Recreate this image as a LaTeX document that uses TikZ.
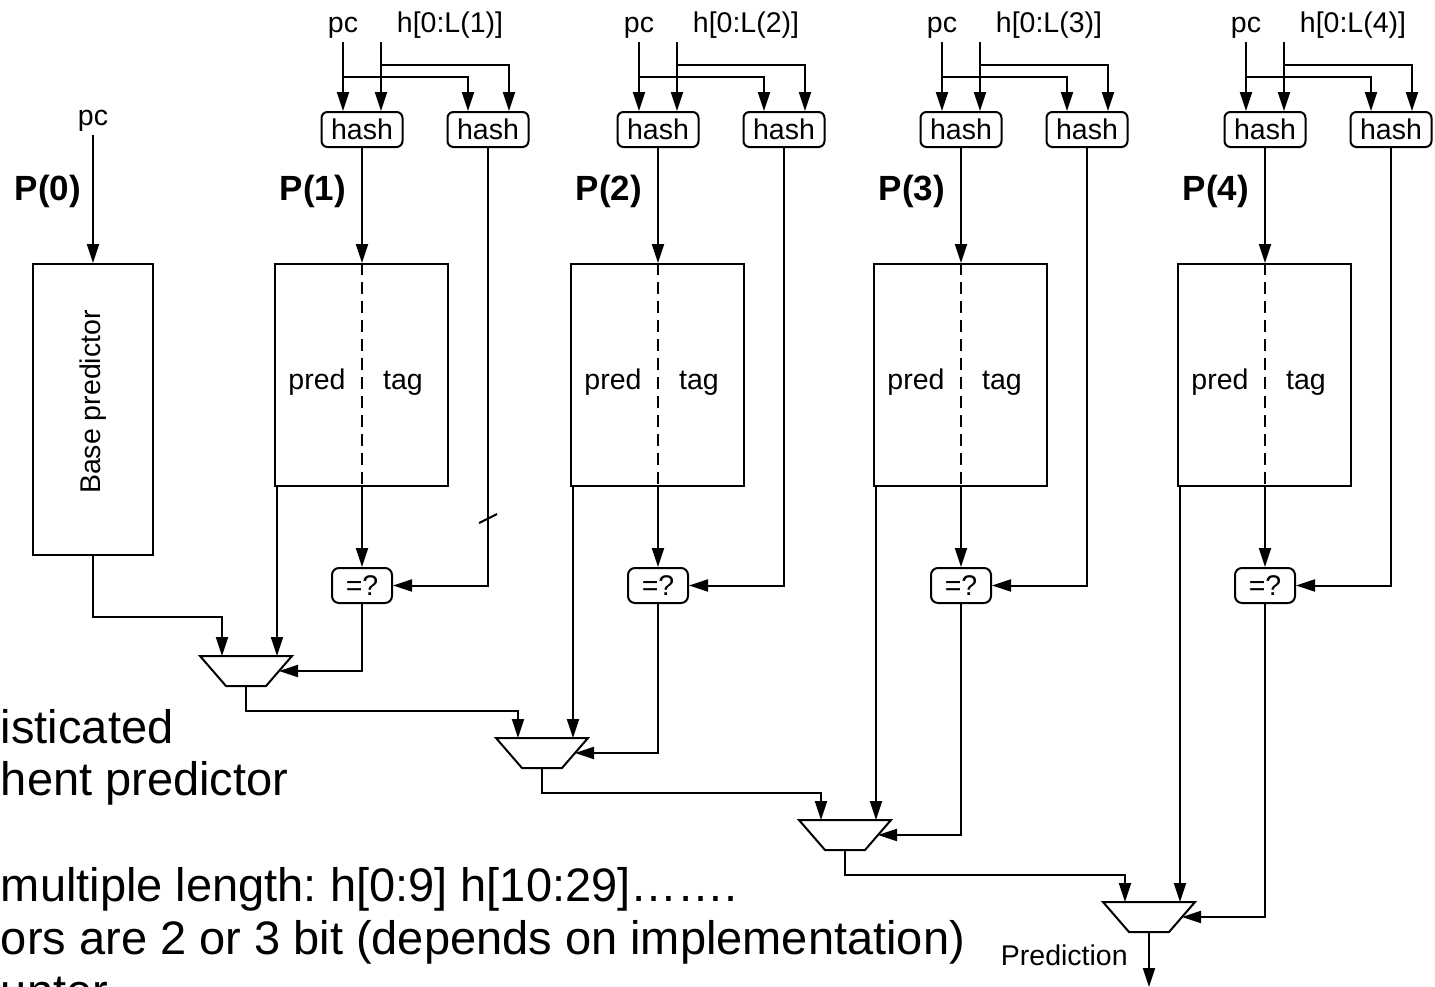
\documentclass[tikz,border=0pt]{standalone}
\usepackage{fontspec}
\setmainfont{Liberation Sans}
\frenchspacing
\usetikzlibrary{arrows.meta,calc}

\tikzset{
  arr/.style={-{Triangle[length=19pt,width=12pt]}},
  hashbox/.style={draw,rounded corners=6pt,minimum width=81pt,minimum height=35pt,inner sep=0pt},
  cmpbox/.style={draw,rounded corners=7pt,minimum width=60pt,minimum height=35pt,inner sep=0pt},
  tblbox/.style={draw,minimum width=173pt,minimum height=222pt,inner sep=0pt},
  lbl/.style={font=\fontsize{28.5}{34}\selectfont},
  biglbl/.style={font=\fontsize{35}{42}\selectfont\bfseries},
  slide/.style={font=\fontsize{47}{54}\selectfont,anchor=base west,inner sep=0pt},
}

\begin{document}
\begin{tikzpicture}[x=1pt,y=-1pt,line width=2pt]
\useasboundingbox (0,0) rectangle (1435,986);
% 背景文字
\node[slide] (t1) at (0,743) {isticated};
\node[slide] (t2) at (0,795) {hent predictor};
\node[slide] (t3) at (0,901) {multiple length: h[0:9] h[10:29]…….};
\node[slide] (t4) at (0,954) {ors are 2 or 3 bit (depends on implementation)};
\node[slide] (t5) at (0,1007) {unter};
% 基础预测器 P(0)
\node[lbl,anchor=base] (pc0) at (93,125) {pc};
\node[biglbl,anchor=base] (P0) at (48,200) {P(0)};
\node[draw,minimum width=120pt,minimum height=291pt,inner sep=0pt] (base) at (93,409.5) {};
\node[lbl,rotate=90,anchor=base] (basetxt) at (100,402) {Base predictor};
\draw[arr] (pc0.south) -- (base.north);
% 四个带标签的表
\foreach \cx/\my/\n in {362/656/1, 658/738/2, 961/820/3, 1265/902/4} {
  \node[lbl,anchor=base] (pc\n) at (\cx-19,32) {pc};
  \node[lbl,anchor=base] (hl\n) at (\cx+88,32) {h[0:L(\n)]};
  \node[biglbl,anchor=base] (P\n) at (\cx-49,200) {P(\n)};
  \node[hashbox,lbl] (ha\n) at (\cx,129.5) {hash};
  \node[hashbox,lbl] (hb\n) at (\cx+126,129.5) {hash};
  \node[tblbox] (tb\n) at (\cx-0.5,375) {};
  \node[lbl,anchor=base] (pr\n) at (\cx-45,389) {pred};
  \node[lbl,anchor=base] (tg\n) at (\cx+41,389) {tag};
  \node[cmpbox,lbl] (eq\n) at (\cx,585.5) {=?};
  \coordinate (hin\n) at (\cx+19,42);
  % 多路选择器
  \coordinate (m\n) at (\cx-116,\my);
  \coordinate (ml\n) at ($(m\n)+(-24,0)$);
  \coordinate (mc\n) at ($(m\n)+(31,0)$);
  \coordinate (mr\n) at ($(m\n)+(33,15)$);
  \coordinate (mo\n) at ($(m\n)+(0,30)$);
  \draw (m\n) ++(-46,0) -- ++(92,0) -- ++(-26,30) -- ++(-40,0) -- cycle;
  % 连线
  \draw[arr] (pc\n.south) -- (pc\n.south |- ha\n.north);
  \draw[arr] (hin\n) -- (hin\n |- ha\n.north);
  \draw[arr] ($(hin\n)+(0,23)$) -| ($(hb\n.north)+(21,0)$);
  \draw[arr] ($(pc\n.south)+(0,35)$) -| ($(hb\n.north)+(-20,0)$);
  \draw[arr] (ha\n.south) -- (ha\n.south |- tb\n.north);
  \draw[dash pattern=on 12pt off 7pt] (ha\n.south |- tb\n.north) -- (ha\n.south |- tb\n.south);
  \draw[arr] (ha\n.south |- tb\n.south) -- (eq\n.north);
  \draw[arr] (hb\n.south) |- (eq\n.east);
  \draw[arr] (mc\n |- tb\n.south) -- (mc\n);
  \draw[arr] (eq\n.south) |- (mr\n);
}
\draw ($(hb1.south)+(-9,375)$) -- ++(18,-9);
% 选择器级联
\draw[arr] (base.south) -- ++(0,61) -| (ml1);
\foreach \a/\b in {1/2,2/3,3/4} \draw[arr] (mo\a) -- ++(0,25) -| (ml\b);
\coordinate (out) at ($(mo4)+(0,55)$);
\draw[arr] (mo4) -- (out);
\node[lbl,anchor=base east] (predlbl) at (1132,965) {Prediction};
\end{tikzpicture}
\end{document}
